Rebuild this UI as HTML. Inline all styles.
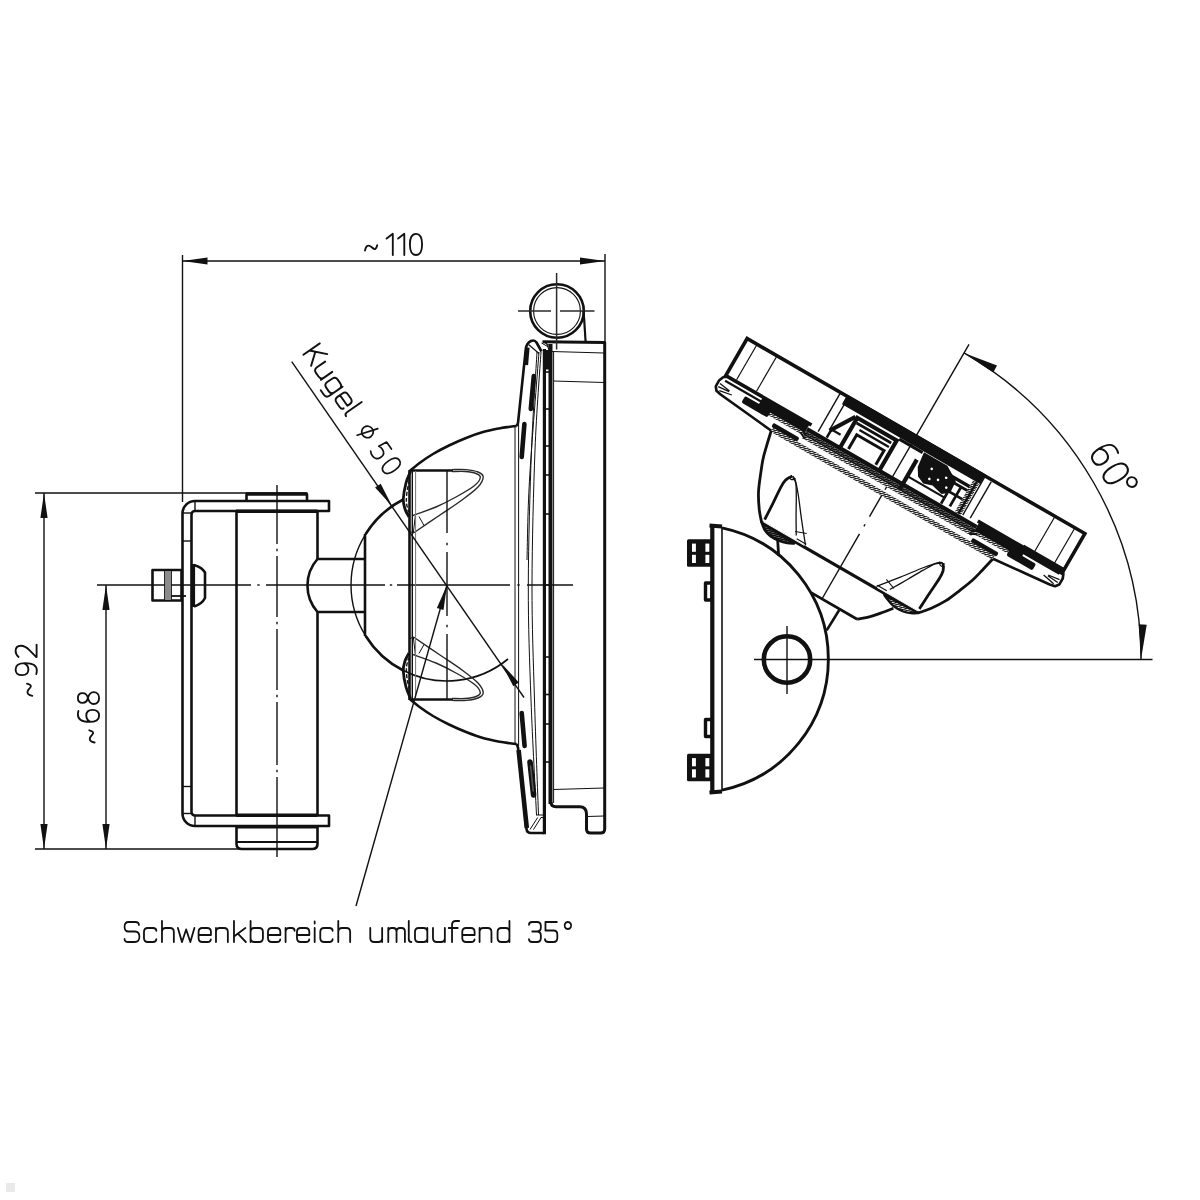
<!DOCTYPE html>
<html><head><meta charset="utf-8"><title>drawing</title>
<style>
html,body{margin:0;padding:0;background:#fff;}
body{width:1200px;height:1200px;overflow:hidden;font-family:"Liberation Sans",sans-serif;}
svg{display:block;}
text{font-family:"Liberation Sans",sans-serif;fill:#111111;}
</style></head><body>
<svg width="1200" height="1200" viewBox="0 0 1200 1200" stroke-linecap="butt" stroke-linejoin="round">
<rect width="1200" height="1200" fill="#fff"/>
<g id="left">
<line x1="182.5" y1="255.0" x2="182.5" y2="502.0" stroke="#111111" stroke-width="1.40" />
<line x1="605.0" y1="254.0" x2="605.0" y2="342.0" stroke="#111111" stroke-width="1.40" />
<line x1="182.5" y1="261.0" x2="605.0" y2="261.0" stroke="#111111" stroke-width="1.40" />
<polygon points="182.5,261.0 207.5,257.4 207.5,264.6" fill="#111111"/>
<polygon points="605.0,261.0 580.0,264.6 580.0,257.4" fill="#111111"/>
<line x1="35.0" y1="493.0" x2="247.0" y2="493.0" stroke="#111111" stroke-width="1.40" />
<line x1="35.0" y1="849.0" x2="250.0" y2="849.0" stroke="#111111" stroke-width="1.40" />
<line x1="44.0" y1="493.0" x2="44.0" y2="849.0" stroke="#111111" stroke-width="1.40" />
<polygon points="44.0,493.0 47.6,518.0 40.4,518.0" fill="#111111"/>
<polygon points="44.0,849.0 40.4,824.0 47.6,824.0" fill="#111111"/>
<line x1="106.0" y1="585.0" x2="106.0" y2="849.0" stroke="#111111" stroke-width="1.40" />
<polygon points="106.0,585.0 109.6,610.0 102.4,610.0" fill="#111111"/>
<polygon points="106.0,849.0 102.4,824.0 109.6,824.0" fill="#111111"/>
<line x1="97.0" y1="585.0" x2="251.0" y2="585.0" stroke="#111111" stroke-width="1.40" />
<line x1="266.0" y1="585.0" x2="385.0" y2="585.0" stroke="#111111" stroke-width="1.40" />
<line x1="397.0" y1="585.0" x2="510.0" y2="585.0" stroke="#111111" stroke-width="1.40" />
<line x1="527.0" y1="585.0" x2="573.0" y2="585.0" stroke="#111111" stroke-width="1.40" />
<line x1="257.3" y1="585.0" x2="259.7" y2="585.0" stroke="#111111" stroke-width="1.40" />
<line x1="389.8" y1="585.0" x2="392.2" y2="585.0" stroke="#111111" stroke-width="1.40" />
<line x1="517.3" y1="585.0" x2="519.7" y2="585.0" stroke="#111111" stroke-width="1.40" />
<line x1="277.0" y1="485.0" x2="277.0" y2="544.0" stroke="#111111" stroke-width="1.40" />
<line x1="277.0" y1="556.0" x2="277.0" y2="617.0" stroke="#111111" stroke-width="1.40" />
<line x1="277.0" y1="629.0" x2="277.0" y2="690.0" stroke="#111111" stroke-width="1.40" />
<line x1="277.0" y1="702.0" x2="277.0" y2="765.0" stroke="#111111" stroke-width="1.40" />
<line x1="277.0" y1="777.0" x2="277.0" y2="857.0" stroke="#111111" stroke-width="1.40" />
<line x1="277.0" y1="548.8" x2="277.0" y2="551.2" stroke="#111111" stroke-width="1.40" />
<line x1="277.0" y1="621.8" x2="277.0" y2="624.2" stroke="#111111" stroke-width="1.40" />
<line x1="277.0" y1="694.8" x2="277.0" y2="697.2" stroke="#111111" stroke-width="1.40" />
<line x1="277.0" y1="769.8" x2="277.0" y2="772.2" stroke="#111111" stroke-width="1.40" />
<path d="M195,501 H329 V511 H195 A3.5,3.5 0 0 0 191.5,514.5 V812 A3.5,3.5 0 0 0 195,815.5 H329 V826 H195 A12.5,12.5 0 0 1 182.5,813.5 V513.5 A12.5,12.5 0 0 1 195,501 Z" fill="none" stroke="#111111" stroke-width="2.60" />
<line x1="195.0" y1="501.0" x2="195.0" y2="511.0" stroke="#111111" stroke-width="1.40" />
<line x1="195.0" y1="815.5" x2="195.0" y2="826.0" stroke="#111111" stroke-width="1.40" />
<line x1="182.5" y1="513.0" x2="191.5" y2="513.0" stroke="#111111" stroke-width="1.40" />
<line x1="182.5" y1="813.5" x2="191.5" y2="813.5" stroke="#111111" stroke-width="1.40" />
<line x1="182.5" y1="541.0" x2="191.5" y2="541.0" stroke="#111111" stroke-width="1.40" />
<line x1="182.5" y1="786.5" x2="191.5" y2="786.5" stroke="#111111" stroke-width="1.40" />
<line x1="236.0" y1="511.3" x2="317.5" y2="511.3" stroke="#111111" stroke-width="3.60" />
<line x1="236.0" y1="815.2" x2="317.5" y2="815.2" stroke="#111111" stroke-width="3.60" />
<path d="M246.5,501 V495 Q246.5,493.5 248,493.5 H305.5 Q307,493.5 307,495 V501" fill="none" stroke="#111111" stroke-width="2.60" />
<line x1="246.0" y1="494.0" x2="307.5" y2="494.0" stroke="#111111" stroke-width="3.40" />
<path d="M236.5,826 V844 Q236.5,849 242,849 H312 Q317.5,849 317.5,844 V826" fill="none" stroke="#111111" stroke-width="2.60" />
<line x1="236.5" y1="842.0" x2="317.5" y2="842.0" stroke="#111111" stroke-width="2.00" />
<line x1="236.0" y1="826.8" x2="317.5" y2="826.8" stroke="#111111" stroke-width="3.40" />
<line x1="236.5" y1="511.0" x2="236.5" y2="815.5" stroke="#111111" stroke-width="2.60" />
<line x1="317.5" y1="511.0" x2="317.5" y2="559.0" stroke="#111111" stroke-width="2.60" />
<line x1="317.5" y1="612.0" x2="317.5" y2="815.5" stroke="#111111" stroke-width="2.60" />
<line x1="317.5" y1="559.0" x2="365.0" y2="559.0" stroke="#111111" stroke-width="2.60" />
<line x1="317.5" y1="612.0" x2="365.0" y2="612.0" stroke="#111111" stroke-width="2.60" />
<path d="M317.5,559 A40,40 0 0 0 317.5,612" fill="none" stroke="#111111" stroke-width="2.60" />
<path d="M152.5,570 H181.5 V600.5 H152.5 Z" fill="none" stroke="#111111" stroke-width="2.60" />
<line x1="165.0" y1="570.0" x2="165.0" y2="600.5" stroke="#111111" stroke-width="1.80" />
<line x1="171.0" y1="570.0" x2="171.0" y2="600.5" stroke="#111111" stroke-width="1.80" />
<rect x="165" y="571" width="6" height="29" fill="#8a8a8a"/>
<line x1="171.0" y1="596.0" x2="186.0" y2="596.0" stroke="#111111" stroke-width="1.80" />
<path d="M193,564 V607" fill="none" stroke="#111111" stroke-width="4.20" />
<path d="M194,565 C199,566.5 203,569 205,572.5 V598 C203,602 199,605 194,606.5" fill="none" stroke="#111111" stroke-width="2.60" />
<line x1="365.0" y1="534.0" x2="365.0" y2="636.0" stroke="#111111" stroke-width="2.60" />
<path d="M365.5,534.3 A96,96 0 0 1 403.3,499.5" fill="none" stroke="#111111" stroke-width="2.60" />
<path d="M365.5,635.7 A96,96 0 0 0 403.3,670.5" fill="none" stroke="#111111" stroke-width="2.60" />
<path d="M365.5,534.3 A96,96 0 0 0 365.5,635.7" fill="none" stroke="#111111" stroke-width="1.40" />
<path d="M403.3,670.5 A96,96 0 0 0 508.0,659.0" fill="none" stroke="#111111" stroke-width="1.70" />
<path d="M410.0,470.5 L453.0,470.5" fill="none" stroke="#111111" stroke-width="2.60" />
<path d="M410.5,471.5 C409.8,473.4 407.2,478.4 406.0,483.0 C404.8,487.6 403.5,494.7 403.3,499.0 C403.1,503.3 404.1,506.0 405.0,509.0 C405.9,512.0 408.3,515.7 409.0,517.0" fill="none" stroke="#111111" stroke-width="2.80" />
<path d="M409.5,480.0 C409.1,482.0 407.5,488.2 407.0,492.0 C406.5,495.8 406.2,499.7 406.5,503.0 C406.8,506.3 408.2,510.5 408.5,512.0" fill="none" stroke="#111111" stroke-width="1.40" stroke-dasharray="4 2"/>
<path d="M452.0,469.6 C454.3,469.6 461.7,469.2 466.0,469.6 C470.3,470.0 475.1,470.8 478.0,472.0 C480.9,473.2 483.2,474.5 483.2,477.0 C483.2,479.5 481.5,483.2 478.0,487.0 C474.5,490.8 468.3,495.3 462.0,500.0 C455.7,504.7 448.1,509.5 440.0,515.0 C431.9,520.5 417.9,530.0 413.5,533.0" fill="none" stroke="#2a2a2a" stroke-width="1.40" />
<path d="M452.0,471.6 C454.2,471.6 461.0,471.2 465.0,471.5 C469.0,471.8 473.4,472.5 476.0,473.5 C478.6,474.5 480.6,475.4 480.3,477.5 C480.0,479.6 478.1,482.8 474.0,486.0 C469.9,489.2 462.3,493.5 456.0,497.0 C449.7,500.5 443.2,503.9 436.0,507.0 C428.8,510.1 416.8,514.1 413.0,515.5" fill="none" stroke="#2a2a2a" stroke-width="1.40" />
<path d="M419.0,516.5 L424.0,525.5" fill="none" stroke="#111111" stroke-width="1.00" />
<path d="M415.3,516.0 L413.3,533.0" fill="none" stroke="#111111" stroke-width="1.00" />
<path d="M409.0,531.0 L413.5,533.0" fill="none" stroke="#111111" stroke-width="1.00" />
<path d="M410.0,699.5 L453.0,699.5" fill="none" stroke="#111111" stroke-width="2.60" />
<path d="M410.5,698.5 C409.8,696.6 407.2,691.6 406.0,687.0 C404.8,682.4 403.5,675.3 403.3,671.0 C403.1,666.7 404.1,664.0 405.0,661.0 C405.9,658.0 408.3,654.3 409.0,653.0" fill="none" stroke="#111111" stroke-width="2.80" />
<path d="M409.5,690.0 C409.1,688.0 407.5,681.8 407.0,678.0 C406.5,674.2 406.2,670.3 406.5,667.0 C406.8,663.7 408.2,659.5 408.5,658.0" fill="none" stroke="#111111" stroke-width="1.40" stroke-dasharray="4 2"/>
<path d="M452.0,700.4 C454.3,700.4 461.7,700.8 466.0,700.4 C470.3,700.0 475.1,699.2 478.0,698.0 C480.9,696.8 483.2,695.5 483.2,693.0 C483.2,690.5 481.5,686.8 478.0,683.0 C474.5,679.2 468.3,674.7 462.0,670.0 C455.7,665.3 448.1,660.5 440.0,655.0 C431.9,649.5 417.9,640.0 413.5,637.0" fill="none" stroke="#2a2a2a" stroke-width="1.40" />
<path d="M452.0,698.4 C454.2,698.4 461.0,698.8 465.0,698.5 C469.0,698.2 473.4,697.5 476.0,696.5 C478.6,695.5 480.6,694.6 480.3,692.5 C480.0,690.4 478.1,687.2 474.0,684.0 C469.9,680.8 462.3,676.5 456.0,673.0 C449.7,669.5 443.2,666.1 436.0,663.0 C428.8,659.9 416.8,655.9 413.0,654.5" fill="none" stroke="#2a2a2a" stroke-width="1.40" />
<path d="M419.0,653.5 L424.0,644.5" fill="none" stroke="#111111" stroke-width="1.00" />
<path d="M415.3,654.0 L413.3,637.0" fill="none" stroke="#111111" stroke-width="1.00" />
<path d="M409.0,639.0 L413.5,637.0" fill="none" stroke="#111111" stroke-width="1.00" />
<line x1="409.5" y1="470.0" x2="409.5" y2="700.0" stroke="#111111" stroke-width="2.60" />
<line x1="412.3" y1="470.0" x2="412.3" y2="700.0" stroke="#111111" stroke-width="1.40" />
<line x1="415.6" y1="471.0" x2="415.6" y2="699.0" stroke="#777" stroke-width="1.00" />
<line x1="447.0" y1="470.0" x2="447.0" y2="533.0" stroke="#111111" stroke-width="1.40" />
<line x1="447.0" y1="552.0" x2="447.0" y2="616.0" stroke="#111111" stroke-width="1.40" />
<line x1="447.0" y1="634.0" x2="447.0" y2="700.0" stroke="#111111" stroke-width="1.40" />
<line x1="447.0" y1="542.8" x2="447.0" y2="545.2" stroke="#111111" stroke-width="1.40" />
<line x1="447.0" y1="624.8" x2="447.0" y2="627.2" stroke="#111111" stroke-width="1.40" />
<path d="M410.0,470.8 C411.8,469.3 417.2,464.8 421.0,462.0 C424.8,459.2 428.3,456.8 433.0,454.0 C437.7,451.2 443.4,448.2 449.0,445.5 C454.6,442.8 461.0,439.9 466.7,437.7 C472.4,435.4 477.4,433.6 483.0,432.0 C488.6,430.4 495.5,429.1 500.0,428.2 C504.5,427.3 507.2,427.2 510.0,426.8 C512.8,426.4 515.6,426.1 516.7,426.0" fill="none" stroke="#111111" stroke-width="2.60" />
<path d="M410.0,699.2 C411.8,700.7 417.2,705.2 421.0,708.0 C424.8,710.8 428.3,713.2 433.0,716.0 C437.7,718.8 443.4,721.8 449.0,724.5 C454.6,727.2 461.0,730.0 466.7,732.3 C472.4,734.5 477.4,736.4 483.0,738.0 C488.6,739.6 495.5,740.9 500.0,741.8 C504.5,742.7 507.2,742.8 510.0,743.2 C512.8,743.6 515.6,743.9 516.7,744.0" fill="none" stroke="#111111" stroke-width="2.60" />
<path d="M516.7,426 L518,423 L525.8,349 Q526.5,343 531,341 Q534.5,339.5 536.5,342.5 L541.5,351.5" fill="none" stroke="#111111" stroke-width="2.60" />
<path d="M527.4,347.5 L525.9,365" fill="none" stroke="#111111" stroke-width="4.40" />
<path d="M528.5,344.5 L539,353.5" fill="none" stroke="#111111" stroke-width="1.20" />
<path d="M516.7,744 L518,747.5 L526.5,829 Q527,833 531,833 H544" fill="none" stroke="#111111" stroke-width="2.60" />
<path d="M518.6,750 L526.8,828" fill="none" stroke="#111111" stroke-width="4.60" />
<line x1="515.0" y1="426.0" x2="515.0" y2="744.0" stroke="#111111" stroke-width="1.00" />
<line x1="518.6" y1="424.0" x2="518.6" y2="746.0" stroke="#111111" stroke-width="1.00" />
<path d="M537.0,352.0 C536.1,368.3 533.0,411.2 531.5,450.0 C530.0,488.8 528.4,543.3 528.3,585.0 C528.2,626.7 529.6,661.7 531.0,700.0 C532.4,738.3 535.6,795.8 536.5,815.0" fill="none" stroke="#111111" stroke-width="1.00" />
<path d="M541.0,352.0 C540.0,368.3 536.5,411.2 535.0,450.0 C533.5,488.8 532.1,543.3 532.0,585.0 C531.9,626.7 533.4,661.7 534.5,700.0 C535.6,738.3 537.8,795.8 538.5,815.0" fill="none" stroke="#111111" stroke-width="1.00" />
<path d="M539.0,352.0 C537.4,373.3 531.5,445.3 529.5,480.0 C527.5,514.7 527.4,546.7 527.0,560.0" fill="none" stroke="#111111" stroke-width="1.00" />
<path d="M530.0,829.5 L537.7,817.5" fill="none" stroke="#111111" stroke-width="1.00" />
<path d="M533.5,829.5 L541.0,817.5 L544.0,817.5" fill="none" stroke="#111111" stroke-width="1.00" />
<path d="M536.0,815.0 L544.0,815.0" fill="none" stroke="#111111" stroke-width="1.00" />
<line x1="533.8" y1="376.0" x2="530.8" y2="409.0" stroke="#111111" stroke-width="4.6" stroke-linecap="round"/>
<line x1="524.4" y1="424.0" x2="521.7" y2="457.0" stroke="#111111" stroke-width="4.6" stroke-linecap="round"/>
<line x1="521.7" y1="713.0" x2="524.6" y2="746.0" stroke="#111111" stroke-width="4.6" stroke-linecap="round"/>
<line x1="530.0" y1="762.0" x2="533.6" y2="795.0" stroke="#111111" stroke-width="5.6" stroke-linecap="round"/>
<line x1="530.6" y1="766" x2="533.2" y2="791" stroke="#555" stroke-width="1.6" stroke-linecap="round"/>
<line x1="544.4" y1="349.0" x2="544.4" y2="834.3" stroke="#111111" stroke-width="3.20" />
<line x1="550.5" y1="344.0" x2="550.5" y2="804.0" stroke="#111111" stroke-width="4.00" />
<line x1="544.0" y1="372.0" x2="551.0" y2="372.0" stroke="#111111" stroke-width="1.60" />
<line x1="544.0" y1="409.0" x2="551.0" y2="409.0" stroke="#111111" stroke-width="1.60" />
<line x1="544.0" y1="446.0" x2="551.0" y2="446.0" stroke="#111111" stroke-width="1.60" />
<line x1="544.0" y1="475.0" x2="551.0" y2="475.0" stroke="#111111" stroke-width="1.60" />
<line x1="544.0" y1="514.0" x2="551.0" y2="514.0" stroke="#111111" stroke-width="1.60" />
<line x1="544.0" y1="585.0" x2="551.0" y2="585.0" stroke="#111111" stroke-width="1.60" />
<line x1="544.0" y1="657.0" x2="551.0" y2="657.0" stroke="#111111" stroke-width="1.60" />
<line x1="544.0" y1="694.5" x2="551.0" y2="694.5" stroke="#111111" stroke-width="1.60" />
<line x1="544.0" y1="724.0" x2="551.0" y2="724.0" stroke="#111111" stroke-width="1.60" />
<line x1="544.0" y1="762.0" x2="551.0" y2="762.0" stroke="#111111" stroke-width="1.60" />
<line x1="553.6" y1="352.0" x2="553.6" y2="803.0" stroke="#111111" stroke-width="1.00" />
<path d="M541.5,343 L552,349 M543,341.8 L552,347 M546,342 L549,350" fill="none" stroke="#111111" stroke-width="1.00" />
<rect x="544" y="350" width="7" height="19.5" fill="#111111"/>
<path d="M542.5,341.7 L604.7,342.5 V829 Q604.7,833 600.5,833 H590.5 Q586.5,833 586.5,829 V814 Q586.5,806.7 579.5,806.7 H556 Q551,806.7 551,802" fill="none" stroke="#111111" stroke-width="3.00" />
<line x1="552.0" y1="351.5" x2="604.0" y2="353.0" stroke="#111111" stroke-width="1.10" />
<line x1="553.6" y1="381.0" x2="604.0" y2="382.5" stroke="#111111" stroke-width="1.10" />
<line x1="553.6" y1="789.5" x2="604.0" y2="788.0" stroke="#111111" stroke-width="1.10" />
<line x1="587.5" y1="816.5" x2="604.0" y2="816.0" stroke="#111111" stroke-width="1.10" />
<circle cx="557" cy="311" r="26.8" fill="none" stroke="#111111" stroke-width="2.6"/>
<circle cx="557" cy="311" r="23.4" fill="none" stroke="#111111" stroke-width="1.1"/>
<line x1="518.0" y1="311.0" x2="551.0" y2="311.0" stroke="#2a2a2a" stroke-width="1.50" />
<line x1="560.0" y1="311.0" x2="594.5" y2="311.0" stroke="#2a2a2a" stroke-width="1.50" />
<line x1="556.6" y1="273.0" x2="556.6" y2="349.5" stroke="#2a2a2a" stroke-width="1.50" />
<line x1="583.6" y1="311.0" x2="585.6" y2="341.5" stroke="#111111" stroke-width="2.20" />
<line x1="291.7" y1="361.6" x2="524.0" y2="697.5" stroke="#111111" stroke-width="1.40" />
<polygon points="392.2,506.2 375.1,487.6 380.7,483.7" fill="#111111"/>
<polygon points="501.8,663.8 518.9,682.4 513.3,686.3" fill="#111111"/>
<line x1="356.0" y1="906.0" x2="447.0" y2="585.0" stroke="#111111" stroke-width="1.40" />
<polygon points="447.0,585.0 443.5,610.0 436.9,608.1" fill="#111111"/>
</g>
<defs><pattern id="hat" width="2.1" height="2.1" patternUnits="userSpaceOnUse" patternTransform="rotate(45)"><rect width="2.1" height="2.1" fill="#fff"/><rect width="1.25" height="2.1" fill="#111111"/></pattern><pattern id="hat2" width="2.1" height="2.1" patternUnits="userSpaceOnUse" patternTransform="rotate(45)"><rect width="2.1" height="2.1" fill="#777"/><rect width="1.5" height="2.1" fill="#111111"/></pattern></defs>
<g id="right">
<line x1="754.0" y1="659.5" x2="1152.5" y2="659.5" stroke="#111111" stroke-width="1.40" />
<line x1="787.0" y1="626.0" x2="787.0" y2="694.0" stroke="#111111" stroke-width="1.40" />
<line x1="916.0" y1="436.1" x2="969.0" y2="344.3" stroke="#111111" stroke-width="1.40" />
<path d="M1141.0,659.5 A354,354 0 0 0 964.0,352.9" fill="none" stroke="#111111" stroke-width="1.40" />
<polygon points="1141.0,659.5 1138.8,624.3 1146.7,624.7" fill="#111111"/>
<polygon points="964.0,352.9 997.0,365.4 993.3,372.5" fill="#111111"/>
<path d="M722,527.8 A134.1,134.1 0 0 1 722,790.2" fill="none" stroke="#111111" stroke-width="2.90" />
<line x1="712.3" y1="524.0" x2="712.3" y2="794.0" stroke="#111111" stroke-width="4.20" />
<line x1="722.0" y1="527.0" x2="722.0" y2="791.0" stroke="#111111" stroke-width="1.60" />
<line x1="709.5" y1="525.5" x2="722.0" y2="526.5" stroke="#111111" stroke-width="4.20" />
<line x1="709.5" y1="792.5" x2="722.0" y2="791.5" stroke="#111111" stroke-width="4.20" />
<rect x="687" y="539.2" width="27" height="27.6" rx="1.5" fill="#111111"/>
<rect x="692.0" y="543.6" width="3.9" height="8.2" fill="#fff"/>
<rect x="692.0" y="554.8" width="3.9" height="8.2" fill="#fff"/>
<rect x="705.4" y="543.6" width="3.9" height="8.2" fill="#fff"/>
<rect x="705.4" y="554.8" width="3.9" height="8.2" fill="#fff"/>
<rect x="687" y="753.7" width="27" height="27.6" rx="1.5" fill="#111111"/>
<rect x="692.0" y="758.1" width="3.9" height="8.2" fill="#fff"/>
<rect x="692.0" y="769.3" width="3.9" height="8.2" fill="#fff"/>
<rect x="705.4" y="758.1" width="3.9" height="8.2" fill="#fff"/>
<rect x="705.4" y="769.3" width="3.9" height="8.2" fill="#fff"/>
<rect x="705.5" y="583.0" width="6.5" height="17" fill="none" stroke="#111111" stroke-width="3.4"/>
<rect x="705.5" y="719.5" width="6.5" height="17" fill="none" stroke="#111111" stroke-width="3.4"/>
<circle cx="787" cy="659.5" r="23.2" fill="none" stroke="#111111" stroke-width="4.6"/>
<g transform="translate(787.0,659.5) rotate(30)">
<line x1="0.0" y1="-258.0" x2="0.0" y2="-196.0" stroke="#111111" stroke-width="1.40" />
<line x1="0.0" y1="-190.0" x2="0.0" y2="-165.0" stroke="#111111" stroke-width="1.40" />
<line x1="0.0" y1="-156.2" x2="0.0" y2="-153.8" stroke="#111111" stroke-width="1.40" />
<line x1="0.0" y1="-145.0" x2="0.0" y2="-71.0" stroke="#111111" stroke-width="1.40" />
<path d="M-96,-215.3 H-195 V-258 H195 V-215.3 H96" fill="none" stroke="#111111" stroke-width="3.60" stroke-linejoin="miter"/>
<rect x="-80" y="-258" width="159" height="8.5" fill="#111111"/>
<line x1="-183.5" y1="-257.0" x2="-183.5" y2="-217.0" stroke="#111111" stroke-width="1.20" />
<line x1="-160.5" y1="-257.0" x2="-160.5" y2="-217.0" stroke="#111111" stroke-width="1.20" />
<line x1="160.5" y1="-257.0" x2="160.5" y2="-217.0" stroke="#111111" stroke-width="1.20" />
<line x1="183.5" y1="-257.0" x2="183.5" y2="-217.0" stroke="#111111" stroke-width="1.20" />
<line x1="-87.0" y1="-257.0" x2="-87.0" y2="-213.0" stroke="#111111" stroke-width="1.40" />
<line x1="-78.0" y1="-254.0" x2="-78.0" y2="-221.0" stroke="#111111" stroke-width="1.40" />
<line x1="80.0" y1="-257.0" x2="80.0" y2="-213.0" stroke="#111111" stroke-width="1.40" />
<line x1="88.0" y1="-256.0" x2="88.0" y2="-214.0" stroke="#111111" stroke-width="1.40" />
<rect x="-152.0" y="-215" width="54" height="9.8" fill="#111111"/>
<line x1="-193.0" y1="-210.5" x2="-150.0" y2="-210.5" stroke="#111111" stroke-width="2.20" />
<rect x="-150.0" y="-205.3" width="52" height="3.1" fill="url(#hat)"/>
<rect x="98.0" y="-215" width="54" height="9.8" fill="#111111"/>
<line x1="193.0" y1="-210.5" x2="150.0" y2="-210.5" stroke="#111111" stroke-width="2.20" />
<rect x="98.0" y="-205.3" width="52" height="3.1" fill="url(#hat)"/>
<rect x="148" y="-218" width="48" height="7.5" fill="#111111"/>
<rect x="-98" y="-211.7" width="196" height="4.4" fill="#111111"/>
<rect x="-98" y="-207.4" width="196" height="3.1" fill="url(#hat2)"/>
<rect x="-98" y="-204.5" width="196" height="1.8" fill="#111111"/>
<rect x="-98" y="-202.7" width="196" height="3.5" fill="url(#hat)"/>
<rect x="-128" y="-194" width="256" height="5" fill="url(#hat)"/>
<path d="M-102,-207 L-95,-203 M-102,-203.5 L-95,-200" fill="none" stroke="#111111" stroke-width="1.80" />
<path d="M102,-207 L95,-203 M102,-203.5 L95,-200" fill="none" stroke="#111111" stroke-width="1.80" />
<path d="M-128.0,-190.3 L-160.0,-193.4 L-190.0,-196.3 L-195.5,-197.5 L-198.3,-201.0 L-198.3,-208.0 L-196.5,-212.5 L-193.0,-215.0" fill="none" stroke="#111111" stroke-width="2.60" />
<path d="M-196.0,-205.5 L-184.0,-203.8 M-196.0,-202 L-184.0,-203 M-193.0,-199 L-180.0,-201.5" fill="none" stroke="#111111" stroke-width="1.30" />
<path d="M128.0,-190.3 L160.0,-193.4 L190.0,-196.3 L195.5,-197.5 L198.3,-201.0 L198.3,-208.0 L196.5,-212.5 L193.0,-215.0" fill="none" stroke="#111111" stroke-width="2.60" />
<path d="M196.0,-205.5 L184.0,-203.8 M196.0,-202 L184.0,-203 M193.0,-199 L180.0,-201.5" fill="none" stroke="#111111" stroke-width="1.30" />
<rect x="-168.0" y="-207.3" width="30" height="7.6" rx="2" fill="#111111"/>
<rect x="-130.0" y="-198.2" width="30" height="4.4" rx="1.5" fill="#111111"/>
<rect x="138.0" y="-207.3" width="30" height="7.6" rx="2" fill="#111111"/>
<rect x="100.0" y="-198.2" width="30" height="4.4" rx="1.5" fill="#111111"/>
<rect x="-80" y="-259.6" width="159.5" height="11" fill="#111111"/>
<path d="M-77.5,-219.5 L-62,-244.5" fill="none" stroke="#111111" stroke-width="4.20" />
<path d="M-60,-211 V-244.5 H-14.5 V-211" fill="none" stroke="#111111" stroke-width="4.20" stroke-linejoin="miter"/>
<line x1="-58.0" y1="-239.6" x2="-18.0" y2="-239.6" stroke="#111111" stroke-width="2.60" />
<line x1="-52.0" y1="-235.0" x2="-18.0" y2="-235.0" stroke="#111111" stroke-width="2.40" />
<path d="M-52,-213 V-229.5 H-20.5 V-213" fill="none" stroke="#111111" stroke-width="3.00" stroke-linejoin="miter"/>
<path d="M-76.5,-221 V-212" fill="none" stroke="#111111" stroke-width="2.50" />
<path d="M-78,-221.5 H-66" fill="none" stroke="#111111" stroke-width="2.20" />
<line x1="12.5" y1="-238.0" x2="12.5" y2="-204.0" stroke="#111111" stroke-width="4.20" />
<line x1="-13.0" y1="-247.0" x2="14.0" y2="-247.0" stroke="#111111" stroke-width="3.00" />
<path d="M15,-248 L42,-248 L57,-239 L58,-226 L51,-220.5 L39,-223.5 L30,-220.5 L22,-224 L17,-232 Z" fill="#111111"/>
<circle cx="30.0" cy="-237.5" r="1.3" fill="#fff"/>
<circle cx="41.0" cy="-231.0" r="1.3" fill="#fff"/>
<circle cx="33.0" cy="-227.5" r="1.3" fill="#fff"/>
<circle cx="47.0" cy="-237.0" r="1.3" fill="#fff"/>
<circle cx="52.0" cy="-228.5" r="1.3" fill="#fff"/>
<path d="M14,-219 H56" fill="none" stroke="#111111" stroke-width="2.20" />
<path d="M55.5,-238 V-212 M64.5,-236 V-214 M55,-226.5 H74 M55,-236.5 H76" fill="none" stroke="#111111" stroke-width="2.80" />
<line x1="40.0" y1="-241.0" x2="77.0" y2="-241.0" stroke="#111111" stroke-width="3.40" />
<rect x="71.5" y="-248" width="7" height="36" fill="url(#hat)"/>
<line x1="75.5" y1="-249.0" x2="75.5" y2="-212.0" stroke="#111111" stroke-width="2.20" />
<path d="M-128.0,-190.0 C-127.4,-187.5 -125.7,-179.8 -124.5,-175.0 C-123.3,-170.2 -122.4,-165.8 -120.8,-161.0 C-119.2,-156.2 -117.1,-151.2 -115.0,-146.0 C-112.9,-140.8 -110.7,-135.0 -108.0,-130.0 C-105.3,-125.0 -101.9,-120.0 -99.0,-116.0 C-96.1,-112.0 -91.9,-107.7 -90.5,-106.0" fill="none" stroke="#111111" stroke-width="2.80" />
<path d="M128.0,-190.0 C127.4,-187.5 125.7,-179.8 124.5,-175.0 C123.3,-170.2 122.4,-165.8 120.8,-161.0 C119.2,-156.2 117.1,-151.2 115.0,-146.0 C112.9,-140.8 110.7,-135.0 108.0,-130.0 C105.3,-125.0 101.9,-120.0 99.0,-116.0 C96.1,-112.0 91.9,-107.7 90.5,-106.0" fill="none" stroke="#111111" stroke-width="2.80" />
<line x1="-90.0" y1="-106.0" x2="90.0" y2="-106.0" stroke="#111111" stroke-width="3.20" />
<line x1="-52.0" y1="-109.5" x2="-41.0" y2="-109.5" stroke="#111111" stroke-width="1.10" />
<line x1="41.0" y1="-109.5" x2="52.0" y2="-109.5" stroke="#111111" stroke-width="1.10" />
<path d="M-90.5,-106.0 C-89.4,-105.2 -86.4,-102.2 -84.0,-101.0 C-81.6,-99.8 -79.0,-98.9 -76.0,-98.6 C-73.0,-98.3 -69.0,-98.6 -66.0,-99.0 C-63.0,-99.4 -60.3,-100.2 -58.0,-101.0 C-55.7,-101.8 -53.0,-103.5 -52.0,-104.0 Z" fill="url(#hat2)" stroke="#111111" stroke-width="2.60" />
<path d="M90.5,-106.0 C89.4,-105.3 86.4,-103.1 84.0,-102.0 C81.6,-100.9 79.0,-100.0 76.0,-99.6 C73.0,-99.2 69.0,-99.1 66.0,-99.5 C63.0,-99.9 60.3,-101.2 58.0,-102.0 C55.7,-102.8 53.0,-104.1 52.0,-104.5 Z" fill="url(#hat)" stroke="#111111" stroke-width="2.40" />
<line x1="-12.5" y1="-70.0" x2="40.6" y2="-70.0" stroke="#111111" stroke-width="2.80" />
<path d="M40.6,-70.0 C42.2,-71.3 47.1,-75.2 50.0,-78.0 C52.9,-80.8 55.2,-83.8 58.0,-87.0 C60.8,-90.2 65.1,-95.8 66.5,-97.5" fill="none" stroke="#111111" stroke-width="2.80" />
<path d="M-68,-99 L-59,-85.5" fill="none" stroke="#111111" stroke-width="2.80" />
<line x1="20.5" y1="-69.0" x2="19.8" y2="-45.0" stroke="#111111" stroke-width="2.60" />
<path d="M-89.3,-110.0 C-89.5,-113.2 -89.9,-123.0 -90.3,-129.0 C-90.7,-135.0 -91.4,-141.7 -91.5,-146.0 C-91.6,-150.3 -91.5,-152.4 -90.8,-155.0 C-90.0,-157.6 -87.6,-160.5 -87.0,-161.6" fill="none" stroke="#111111" stroke-width="2.80" />
<path d="M-86.5,-161.8 C-85.8,-161.3 -84.4,-161.4 -82.0,-159.0 C-79.6,-156.6 -76.2,-152.7 -72.0,-147.5 C-67.8,-142.3 -62.2,-134.6 -57.0,-128.0 C-51.8,-121.4 -43.7,-111.3 -41.0,-108.0" fill="none" stroke="#111111" stroke-width="1.30" />
<path d="M-86.0,-160.5 C-85.1,-159.9 -82.7,-159.6 -80.5,-157.0 C-78.3,-154.4 -75.8,-149.7 -73.0,-145.0 C-70.2,-140.3 -67.2,-134.5 -64.0,-129.0 C-60.8,-123.5 -55.7,-114.8 -54.0,-112.0" fill="none" stroke="#111111" stroke-width="1.30" />
<path d="M-90.0,-159.0 C-89.3,-158.8 -87.2,-157.7 -86.0,-158.0 C-84.8,-158.3 -83.5,-160.5 -83.0,-161.0" fill="none" stroke="#111111" stroke-width="1.20" />
<path d="M-46.0,-119 L-57.0,-115" fill="none" stroke="#111111" stroke-width="1.00" />
<line x1="-42.0" y1="-107.5" x2="-89.0" y2="-107.5" stroke="#fff" stroke-width="1.00" />
<path d="M89.3,-110.0 C89.5,-113.2 89.9,-123.0 90.3,-129.0 C90.7,-135.0 91.4,-141.7 91.5,-146.0 C91.6,-150.3 91.5,-152.4 90.8,-155.0 C90.0,-157.6 87.6,-160.5 87.0,-161.6" fill="none" stroke="#111111" stroke-width="2.80" />
<path d="M86.5,-161.8 C85.8,-161.3 84.4,-161.4 82.0,-159.0 C79.6,-156.6 76.2,-152.7 72.0,-147.5 C67.8,-142.3 62.2,-134.6 57.0,-128.0 C51.8,-121.4 43.7,-111.3 41.0,-108.0" fill="none" stroke="#111111" stroke-width="1.30" />
<path d="M86.0,-160.5 C85.1,-159.9 82.7,-159.6 80.5,-157.0 C78.3,-154.4 75.8,-149.7 73.0,-145.0 C70.2,-140.3 67.2,-134.5 64.0,-129.0 C60.8,-123.5 55.7,-114.8 54.0,-112.0" fill="none" stroke="#111111" stroke-width="1.30" />
<path d="M90.0,-159.0 C89.3,-158.8 87.2,-157.7 86.0,-158.0 C84.8,-158.3 83.5,-160.5 83.0,-161.0" fill="none" stroke="#111111" stroke-width="1.20" />
<path d="M46.0,-119 L57.0,-115" fill="none" stroke="#111111" stroke-width="1.00" />
<line x1="42.0" y1="-107.5" x2="89.0" y2="-107.5" stroke="#fff" stroke-width="1.00" />
</g>
</g>
<path transform="translate(124.1,942.0) scale(0.90,1)" d="M16.5,-17 Q16.5,-20 12.5,-20 H5 Q0.5,-20 0.5,-15.3 Q0.5,-10.5 5,-10.5 H12 Q17,-10.5 17,-5.2 Q17,0 12,0 H4.5 Q0.5,0 0.5,-3" fill="none" stroke="#111111" stroke-width="1.90" stroke-linecap="round" stroke-linejoin="round"/>
<path transform="translate(143.5,942.0) scale(0.95,1)" d="M13.5,-11.3 Q13.5,-14 10,-14 H4.5 Q0.5,-14 0.5,-10 V-4 Q0.5,0 4.5,0 H10 Q13.5,0 13.5,-2.7" fill="none" stroke="#111111" stroke-width="1.90" stroke-linecap="round" stroke-linejoin="round"/>
<path transform="translate(161.5,942.0) scale(0.95,1)" d="M0.5,-21 V0 M0.5,-10 Q0.5,-14 4.5,-14 H9 Q13,-14 13,-10 V0" fill="none" stroke="#111111" stroke-width="1.90" stroke-linecap="round" stroke-linejoin="round"/>
<path transform="translate(177.6,942.0) scale(0.95,1)" d="M0.3,-14 L4.6,0 L9,-12.5 L13.4,0 L17.7,-14" fill="none" stroke="#111111" stroke-width="1.90" stroke-linecap="round" stroke-linejoin="round"/>
<path transform="translate(198.1,942.0) scale(0.95,1)" d="M0.5,-7 H13.5 V-10 Q13.5,-14 9.5,-14 H4.5 Q0.5,-14 0.5,-10 V-4 Q0.5,0 4.5,0 H10 Q13.2,0 13.4,-2.5" fill="none" stroke="#111111" stroke-width="1.90" stroke-linecap="round" stroke-linejoin="round"/>
<path transform="translate(215.5,942.0) scale(0.95,1)" d="M0.5,-14 V0 M0.5,-10 Q0.5,-14 4.5,-14 H9 Q13,-14 13,-10 V0" fill="none" stroke="#111111" stroke-width="1.90" stroke-linecap="round" stroke-linejoin="round"/>
<path transform="translate(233.5,942.0) scale(0.95,1)" d="M0.5,-21 V0 M12.5,-14 L0.5,-5.5 M4.6,-8.4 L13,0" fill="none" stroke="#111111" stroke-width="1.90" stroke-linecap="round" stroke-linejoin="round"/>
<path transform="translate(250.1,942.0) scale(0.95,1)" d="M0.5,-21 V0 M0.5,-10 Q0.5,-14 4.5,-14 H9.5 Q13.5,-14 13.5,-10 V-4 Q13.5,0 9.5,0 H4.5 Q0.5,0 0.5,-4" fill="none" stroke="#111111" stroke-width="1.90" stroke-linecap="round" stroke-linejoin="round"/>
<path transform="translate(267.5,942.0) scale(0.95,1)" d="M0.5,-7 H13.5 V-10 Q13.5,-14 9.5,-14 H4.5 Q0.5,-14 0.5,-10 V-4 Q0.5,0 4.5,0 H10 Q13.2,0 13.4,-2.5" fill="none" stroke="#111111" stroke-width="1.90" stroke-linecap="round" stroke-linejoin="round"/>
<path transform="translate(285.1,942.0) scale(0.95,1)" d="M0.5,-14 V0 M0.5,-10 Q0.5,-14 4.5,-14 H7 Q10,-14 10,-11.3" fill="none" stroke="#111111" stroke-width="1.90" stroke-linecap="round" stroke-linejoin="round"/>
<path transform="translate(296.5,942.0) scale(0.95,1)" d="M0.5,-7 H13.5 V-10 Q13.5,-14 9.5,-14 H4.5 Q0.5,-14 0.5,-10 V-4 Q0.5,0 4.5,0 H10 Q13.2,0 13.4,-2.5" fill="none" stroke="#111111" stroke-width="1.90" stroke-linecap="round" stroke-linejoin="round"/>
<path transform="translate(314.2,942.0) scale(0.95,1)" d="M0.5,-14 V0 M0.5,-20.5 V-18.5" fill="none" stroke="#111111" stroke-width="1.90" stroke-linecap="round" stroke-linejoin="round"/>
<path transform="translate(319.8,942.0) scale(0.95,1)" d="M13.5,-11.3 Q13.5,-14 10,-14 H4.5 Q0.5,-14 0.5,-10 V-4 Q0.5,0 4.5,0 H10 Q13.5,0 13.5,-2.7" fill="none" stroke="#111111" stroke-width="1.90" stroke-linecap="round" stroke-linejoin="round"/>
<path transform="translate(337.8,942.0) scale(0.95,1)" d="M0.5,-21 V0 M0.5,-10 Q0.5,-14 4.5,-14 H9 Q13,-14 13,-10 V0" fill="none" stroke="#111111" stroke-width="1.90" stroke-linecap="round" stroke-linejoin="round"/>
<path transform="translate(369.8,942.0) scale(0.95,1)" d="M0.5,-14 V-4 Q0.5,0 4.5,0 H9 Q13,0 13,-4 M13,-14 V0" fill="none" stroke="#111111" stroke-width="1.90" stroke-linecap="round" stroke-linejoin="round"/>
<path transform="translate(387.8,942.0) scale(0.95,1)" d="M0.5,-14 V0 M0.5,-10.5 Q0.5,-14 4,-14 H5.8 Q9.2,-14 9.2,-10.5 V0 M9.2,-10.5 Q9.2,-14 12.7,-14 H14.5 Q18,-14 18,-10.5 V0" fill="none" stroke="#111111" stroke-width="1.90" stroke-linecap="round" stroke-linejoin="round"/>
<path transform="translate(408.3,942.0) scale(0.95,1)" d="M0.5,-21 V-3 Q0.5,0 3.2,0" fill="none" stroke="#111111" stroke-width="1.90" stroke-linecap="round" stroke-linejoin="round"/>
<path transform="translate(414.5,942.0) scale(0.95,1)" d="M13.5,-14 V0 M13.5,-4 Q13.5,0 9.5,0 H4.5 Q0.5,0 0.5,-4 V-10 Q0.5,-14 4.5,-14 H9.5 Q13.5,-14 13.5,-10" fill="none" stroke="#111111" stroke-width="1.90" stroke-linecap="round" stroke-linejoin="round"/>
<path transform="translate(432.5,942.0) scale(0.95,1)" d="M0.5,-14 V-4 Q0.5,0 4.5,0 H9 Q13,0 13,-4 M13,-14 V0" fill="none" stroke="#111111" stroke-width="1.90" stroke-linecap="round" stroke-linejoin="round"/>
<path transform="translate(448.7,942.0) scale(0.95,1)" d="M3.5,0 V-17 Q3.5,-21 7.5,-21 H11 M0,-14 H9.5" fill="none" stroke="#111111" stroke-width="1.90" stroke-linecap="round" stroke-linejoin="round"/>
<path transform="translate(461.8,942.0) scale(0.95,1)" d="M0.5,-7 H13.5 V-10 Q13.5,-14 9.5,-14 H4.5 Q0.5,-14 0.5,-10 V-4 Q0.5,0 4.5,0 H10 Q13.2,0 13.4,-2.5" fill="none" stroke="#111111" stroke-width="1.90" stroke-linecap="round" stroke-linejoin="round"/>
<path transform="translate(479.1,942.0) scale(0.95,1)" d="M0.5,-14 V0 M0.5,-10 Q0.5,-14 4.5,-14 H9 Q13,-14 13,-10 V0" fill="none" stroke="#111111" stroke-width="1.90" stroke-linecap="round" stroke-linejoin="round"/>
<path transform="translate(497.1,942.0) scale(0.95,1)" d="M13,-21 V0 M13,-10 Q13,-14 9,-14 H4.5 Q0.5,-14 0.5,-10 V-4 Q0.5,0 4.5,0 H9 Q13,0 13,-4" fill="none" stroke="#111111" stroke-width="1.90" stroke-linecap="round" stroke-linejoin="round"/>
<path transform="translate(528.5,942.0) scale(0.95,1)" d="M0.5,-17.3 Q0.5,-20 3.7,-20 H9 Q13,-20 13,-16 V-14.5 Q13,-10.5 9,-10.5 H4 M9,-10.5 Q13,-10.5 13,-6.5 V-4 Q13,0 9,0 H3.7 Q0.5,0 0.5,-2.7" fill="none" stroke="#111111" stroke-width="1.90" stroke-linecap="round" stroke-linejoin="round"/>
<path transform="translate(544.5,942.0) scale(0.95,1)" d="M13,-20 H1 V-11.5 H9.5 Q13.5,-11.5 13.5,-7.5 V-4 Q13.5,0 9.5,0 H4 Q0.5,0 0.5,-2.7" fill="none" stroke="#111111" stroke-width="1.90" stroke-linecap="round" stroke-linejoin="round"/>
<path transform="translate(563.6,942.0) scale(0.95,1)" d="M4.5,-20 A3.5,3.5 0 1 0 4.51,-20 Z" fill="none" stroke="#111111" stroke-width="1.90" stroke-linecap="round" stroke-linejoin="round"/>
<g transform="translate(364.5,254.8)">
<path transform="translate(0.00,0)" d="M0.5,-4.3 Q1.6,-10 5,-9 Q6.6,-8.5 8.2,-6.8 Q11.3,-3.6 12.7,-9.6" fill="none" stroke="#111111" stroke-width="1.85" stroke-linecap="round" stroke-linejoin="round"/>
<path transform="translate(21.50,0)" d="M0.6,-16.2 L6.8,-21 V0.2" fill="none" stroke="#111111" stroke-width="1.85" stroke-linecap="round" stroke-linejoin="round"/>
<path transform="translate(33.00,0)" d="M0.6,-16.2 L6.8,-21 V0.2" fill="none" stroke="#111111" stroke-width="1.85" stroke-linecap="round" stroke-linejoin="round"/>
<path transform="translate(44.60,0)" d="M6.9,-21 C2.6,-21 0.8,-16.5 0.8,-10.5 C0.8,-4.5 2.6,0.2 6.9,0.2 C11.2,0.2 13,-4.5 13,-10.5 C13,-16.5 11.2,-21 6.9,-21 Z" fill="none" stroke="#111111" stroke-width="1.85" stroke-linecap="round" stroke-linejoin="round"/>
</g>
<g transform="translate(36.6,696.3) rotate(-90)">
<path transform="translate(0.00,0)" d="M0.5,-4.3 Q1.6,-10 5,-9 Q6.6,-8.5 8.2,-6.8 Q11.3,-3.6 12.7,-9.6" fill="none" stroke="#111111" stroke-width="1.85" stroke-linecap="round" stroke-linejoin="round"/>
<path transform="translate(20.50,0)" d="M1.7,-0.3 Q3.5,0.2 5.2,0.2 Q12.6,0.2 12.6,-11.3 Q12.6,-21 6.4,-21 Q0.6,-21 0.6,-14.4 Q0.6,-8.2 6.2,-8.2 Q10.7,-8.2 12.5,-12.3" fill="none" stroke="#111111" stroke-width="1.85" stroke-linecap="round" stroke-linejoin="round"/>
<path transform="translate(38.20,0)" d="M1.2,-18 Q3.5,-21 7,-21 Q12.3,-21 12.3,-15.7 Q12.3,-11.5 8,-7.2 L1,-0.3 V0 H13.5" fill="none" stroke="#111111" stroke-width="1.85" stroke-linecap="round" stroke-linejoin="round"/>
</g>
<g transform="translate(98.9,743) rotate(-90)">
<path transform="translate(0.00,0)" d="M0.5,-4.3 Q1.6,-10 5,-9 Q6.6,-8.5 8.2,-6.8 Q11.3,-3.6 12.7,-9.6" fill="none" stroke="#111111" stroke-width="1.85" stroke-linecap="round" stroke-linejoin="round"/>
<path transform="translate(20.20,0)" d="M11.8,-20.5 Q10,-21 8.3,-21 Q0.9,-21 0.9,-9.5 Q0.9,0.2 7.1,0.2 Q12.9,0.2 12.9,-6.4 Q12.9,-12.6 7.3,-12.6 Q2.8,-12.6 1,-8.5" fill="none" stroke="#111111" stroke-width="1.85" stroke-linecap="round" stroke-linejoin="round"/>
<path transform="translate(38.20,0)" d="M6.75,-21 C3.7,-21 1.9,-19 1.9,-16.3 C1.9,-13.4 4,-11.6 6.75,-11 C10.5,-10 12.7,-8.2 12.7,-5.3 C12.7,-1.8 10.3,0.2 6.75,0.2 C3.2,0.2 0.8,-1.8 0.8,-5.3 C0.8,-8.2 3,-10 6.75,-11 C9.5,-11.6 11.6,-13.4 11.6,-16.3 C11.6,-19 9.8,-21 6.75,-21 Z" fill="none" stroke="#111111" stroke-width="1.85" stroke-linecap="round" stroke-linejoin="round"/>
</g>
<g transform="translate(1088.81,453.45) rotate(59.20) scale(1.240)">
<path transform="translate(0.00,0)" d="M11.8,-20.5 Q10,-21 8.3,-21 Q0.9,-21 0.9,-9.5 Q0.9,0.2 7.1,0.2 Q12.9,0.2 12.9,-6.4 Q12.9,-12.6 7.3,-12.6 Q2.8,-12.6 1,-8.5" fill="none" stroke="#111111" stroke-width="1.57" stroke-linecap="round" stroke-linejoin="round"/>
<path transform="translate(18.00,0)" d="M6.9,-21 C2.6,-21 0.8,-16.5 0.8,-10.5 C0.8,-4.5 2.6,0.2 6.9,0.2 C11.2,0.2 13,-4.5 13,-10.5 C13,-16.5 11.2,-21 6.9,-21 Z" fill="none" stroke="#111111" stroke-width="1.57" stroke-linecap="round" stroke-linejoin="round"/>
<path transform="translate(32.60,0)" d="M5,-22 A4,4 0 1 0 5.01,-22 Z" fill="none" stroke="#111111" stroke-width="1.57" stroke-linecap="round" stroke-linejoin="round"/>
</g>
<g transform="translate(303.1,354.4) rotate(55.20)">
<path transform="translate(0.0,0)" d="M0.5,-20 V0 M13.5,-20 L0.5,-7.5 M4.8,-11.6 L14,0" fill="none" stroke="#111111" stroke-width="1.9" stroke-linecap="round" stroke-linejoin="round"/>
<path transform="translate(18.0,0)" d="M0.5,-14 V-4 Q0.5,0 4.5,0 H9 Q13,0 13,-4 M13,-14 V0" fill="none" stroke="#111111" stroke-width="1.9" stroke-linecap="round" stroke-linejoin="round"/>
<path transform="translate(36.0,0)" d="M13,-14 V2 Q13,6 9,6 H3.5 M13,-4 Q13,0 9,0 H4.5 Q0.5,0 0.5,-4 V-10 Q0.5,-14 4.5,-14 H9 Q13,-14 13,-10" fill="none" stroke="#111111" stroke-width="1.9" stroke-linecap="round" stroke-linejoin="round"/>
<path transform="translate(54.0,0)" d="M0.5,-7 H13.5 V-10 Q13.5,-14 9.5,-14 H4.5 Q0.5,-14 0.5,-10 V-4 Q0.5,0 4.5,0 H10 Q13.2,0 13.4,-2.5" fill="none" stroke="#111111" stroke-width="1.9" stroke-linecap="round" stroke-linejoin="round"/>
<path transform="translate(72.0,0)" d="M0.5,-21 V-3 Q0.5,0 3.2,0" fill="none" stroke="#111111" stroke-width="1.9" stroke-linecap="round" stroke-linejoin="round"/>
<circle cx="100.4" cy="-8.6" r="5.8" fill="none" stroke="#111111" stroke-width="1.7"/>
<path d="M97.2,1.8 L103.6,-19" fill="none" stroke="#111111" stroke-width="1.6" stroke-linecap="round"/>
<g transform="translate(0,0.8) scale(0.93)">
<path transform="translate(126.00,0)" d="M11.8,-20.8 H2.6 L1.6,-11.3 Q3.8,-12.6 6.4,-12.6 Q12.6,-12.6 12.6,-6.4 Q12.6,0.2 6,0.2 Q2.8,0.2 0.8,-1.2" fill="none" stroke="#111111" stroke-width="1.8" stroke-linecap="round" stroke-linejoin="round"/>
<path transform="translate(145.60,0)" d="M6.9,-21 C2.6,-21 0.8,-16.5 0.8,-10.5 C0.8,-4.5 2.6,0.2 6.9,0.2 C11.2,0.2 13,-4.5 13,-10.5 C13,-16.5 11.2,-21 6.9,-21 Z" fill="none" stroke="#111111" stroke-width="1.8" stroke-linecap="round" stroke-linejoin="round"/>
</g></g>
<rect x="6" y="1183" width="9" height="9" fill="#e9e9e9"/>
</svg>
</body></html>
